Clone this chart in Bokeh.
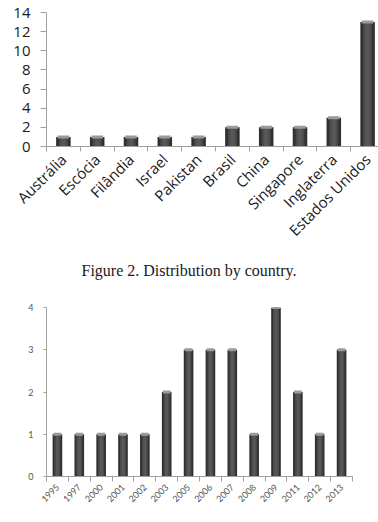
import math
from bokeh.plotting import figure
from bokeh.models import FixedTicker, Range1d, Div
from bokeh.layouts import column
from bokeh.embed import file_html
from bokeh.resources import INLINE

# ---- data ----
countries = ["Austrália", "Escócia", "Filândia", "Israel", "Pakistan", "Brasil",
             "China", "Singapore", "Inglaterra", "Estados Unidos"]
country_counts = [1, 1, 1, 1, 1, 2, 2, 2, 3, 13]
country_yticks = [0, 2, 4, 6, 8, 10, 12, 14]

years = ["1995", "1997", "2000", "2001", "2002", "2003", "2005", "2006",
         "2007", "2008", "2009", "2011", "2012", "2013"]
year_counts = [1, 1, 1, 1, 1, 2, 3, 3, 3, 1, 4, 2, 1, 3]
year_yticks = [0, 1, 2, 3, 4]

caption = "Figure 2. Distribution by country."

AXIS = "#a0a0a0"


def make_chart(labels, vals, yticks, fw, fh, bl, br, bt, bb, bar_w,
               font, font_px, label_color, ystand, yticklen, xstand):
    n = len(labels)
    xs = list(range(n))
    p = figure(frame_width=fw, frame_height=fh,
               x_range=Range1d(-0.5, n - 0.5),
               y_range=Range1d(0, max(yticks)),
               output_backend="svg", toolbar_location=None,
               min_border_left=bl, min_border_right=br,
               min_border_top=bt, min_border_bottom=bb)
    p.outline_line_color = None
    p.xgrid.visible = False
    p.ygrid.visible = False
    p.background_fill_color = "white"
    p.border_fill_color = "white"

    # bars: dark body, lighter inner strip, light cap
    p.vbar(x=xs, top=vals, bottom=0, width=bar_w,
           fill_color="#303030", line_color=None)
    p.vbar(x=xs, top=vals, bottom=0, width=bar_w * 0.62,
           fill_color="#4a4a4a", line_color=None)
    p.vbar(x=xs, top=vals, bottom=0, width=bar_w * 0.3,
           fill_color="#575757", line_color=None)
    p.rect(x=xs, y=vals, width=bar_w * 0.8, height=3, height_units="screen",
           fill_color="#9a9a9a", line_color=None)

    # x axis
    xa = p.xaxis[0]
    xa.ticker = FixedTicker(ticks=xs, minor_ticks=[i - 0.5 for i in range(n + 1)])
    xa.major_label_overrides = {i: lab for i, lab in enumerate(labels)}
    xa.major_label_orientation = math.pi / 4
    xa.major_tick_line_color = None
    xa.major_tick_in = 0
    xa.major_tick_out = 0
    xa.minor_tick_in = 0
    xa.minor_tick_out = 5
    xa.minor_tick_line_color = AXIS
    xa.axis_line_color = AXIS
    xa.major_label_standoff = xstand
    xa.major_label_text_font = font
    xa.major_label_text_font_size = f"{font_px}px"
    xa.major_label_text_color = label_color

    # y axis
    ya = p.yaxis[0]
    ya.ticker = FixedTicker(ticks=yticks, minor_ticks=[])
    ya.major_tick_in = 0
    ya.major_tick_out = yticklen
    ya.major_tick_line_color = AXIS
    ya.axis_line_color = AXIS
    ya.major_label_standoff = ystand
    ya.major_label_text_font = font
    ya.major_label_text_font_size = f"{font_px}px"
    ya.major_label_text_color = label_color
    return p


p1 = make_chart(countries, country_counts, country_yticks,
                fw=338, fh=134, bl=38, br=2, bt=12, bb=112, bar_w=0.43,
                font="Open Sans", font_px=15, label_color="#1a1a1a",
                ystand=10, yticklen=6, xstand=5)

cap = Div(text=caption, width=378, height=26, margin=0,
          styles={"text-align": "center", "font-family": "Liberation Serif",
                  "font-size": "16px", "line-height": "26px", "color": "#1a1a1a"})

p2 = make_chart(years, year_counts, year_yticks,
                fw=306, fh=169, bl=46, br=26, bt=23, bb=46, bar_w=0.44,
                font="Lato", font_px=9, label_color="#555555",
                ystand=10, yticklen=3, xstand=4)

layout = column(p1, cap, p2, spacing=0)

with open("out.html", "w") as f:
    f.write(file_html(layout, INLINE))
